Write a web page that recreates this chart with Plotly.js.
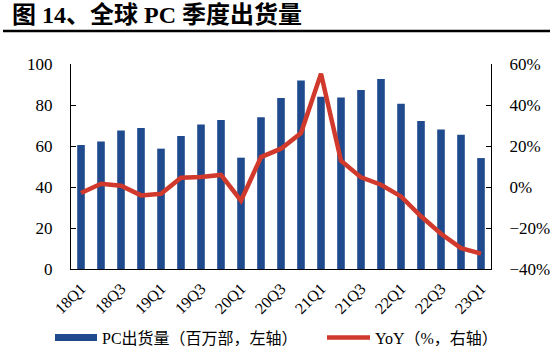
<!DOCTYPE html>
<html>
<head>
<meta charset="utf-8">
<script src="https://cdn.plot.ly/plotly-3.0.1.min.js"></script>
<style>html,body{margin:0;padding:0;background:#fff}#chart{width:556px;height:354px}</style>
</head>
<body>
<div id="chart"></div>
<script>
// ---- data ----
const quarters = ["18Q1","18Q2","18Q3","18Q4","19Q1","19Q2","19Q3","19Q4","20Q1","20Q2","20Q3","20Q4","21Q1","21Q2","21Q3","21Q4","22Q1","22Q2","22Q3","22Q4","23Q1"];
const shipments = [60.5,62.2,67.5,68.8,58.7,64.9,70.5,72.7,54.3,74.0,83.4,91.9,84.0,83.6,87.3,92.7,80.6,72.2,68.0,65.5,54.1];
const yoy = [-2.9,1.6,0.6,-4.1,-3.3,4.5,4.9,5.9,-6.7,14.6,18.7,26.3,55.3,12.8,4.7,1.1,-4.6,-14.3,-22.8,-29.8,-32.5];
const tickQuarters = quarters.filter((q, i) => i % 2 === 0);
const titleText = "图 14、全球 PC 季度出货量";
const barName = "PC出货量（百万部，左轴）";
const lineName = "YoY（%，右轴）";

// ---- layout helpers ----
const W = 556, H = 354, ML = 71, MR = 65, MT = 64, MB = 85;
const PW = W - ML - MR, PH = H - MT - MB;
const px = x => (x - ML) / PW;
const py = y => (H - MB - y) / PH;

const barColor = "#1F4A8E";
const lineColor = "#D0392B";
const serif = "'Liberation Serif', 'Times New Roman', serif";
const cjk = "'Liberation Serif', 'Noto Sans CJK SC', serif";

const traces = [
  {type: "bar", x: quarters, y: shipments, name: barName, marker: {color: barColor}, width: 0.38, yaxis: "y", showlegend: false},
  {type: "scatter", mode: "lines", x: quarters, y: yoy, name: lineName, line: {color: lineColor, width: 4.5}, yaxis: "y2", showlegend: false}
];

const layout = {
  width: W, height: H,
  margin: {l: ML, r: MR, t: MT, b: MB},
  paper_bgcolor: "#fff", plot_bgcolor: "#fff",
  showlegend: false,
  title: {text: "<b>" + titleText + "</b>", font: {family: cjk, size: 24, color: "#000"}, x: 12 / W, xanchor: "left", xref: "container", y: 1 - 15 / H, yanchor: "middle", yref: "container"},
  xaxis: {type: "category", tickmode: "array", tickvals: tickQuarters, ticktext: tickQuarters, tickangle: -45,
          showline: true, linecolor: "#000", linewidth: 1, ticks: "", showgrid: false, zeroline: false,
          tickfont: {family: serif, size: 16, color: "#000"}, ticklabelstandoff: 3},
  yaxis: {range: [0, 100], dtick: 20, showline: true, linecolor: "#000", linewidth: 1, ticks: "inside", ticklen: 5, tickcolor: "#000",
          showgrid: false, zeroline: false, tickfont: {family: serif, size: 17, color: "#000"}, ticklabelstandoff: 14},
  yaxis2: {range: [-40, 60], dtick: 20, overlaying: "y", side: "right", ticksuffix: "%", showline: true, linecolor: "#000", linewidth: 1,
           ticks: "inside", ticklen: 5, tickcolor: "#000", showgrid: false, zeroline: false, tickfont: {family: serif, size: 17, color: "#000"}, ticklabelstandoff: 14},
  shapes: [
    {type: "line", xref: "paper", yref: "paper", x0: px(3), x1: px(550), y0: py(31), y1: py(31), line: {color: "#000", width: 2.5}},
    {type: "rect", xref: "paper", yref: "paper", x0: px(55), x1: px(97), y0: py(341), y1: py(334), fillcolor: barColor, line: {width: 0}},
    {type: "line", xref: "paper", yref: "paper", x0: px(327), x1: px(370), y0: py(337.5), y1: py(337.5), line: {color: lineColor, width: 4.5}}
  ],
  annotations: [
    {xref: "paper", yref: "paper", x: px(100), y: py(338), xanchor: "left", yanchor: "middle", showarrow: false, text: barName, font: {family: cjk, size: 16, color: "#000"}},
    {xref: "paper", yref: "paper", x: px(373), y: py(338), xanchor: "left", yanchor: "middle", showarrow: false, text: lineName, font: {family: cjk, size: 16, color: "#000"}}
  ]
};

Plotly.newPlot("chart", traces, layout, {displayModeBar: false, staticPlot: true});
</script>
</body>
</html>
